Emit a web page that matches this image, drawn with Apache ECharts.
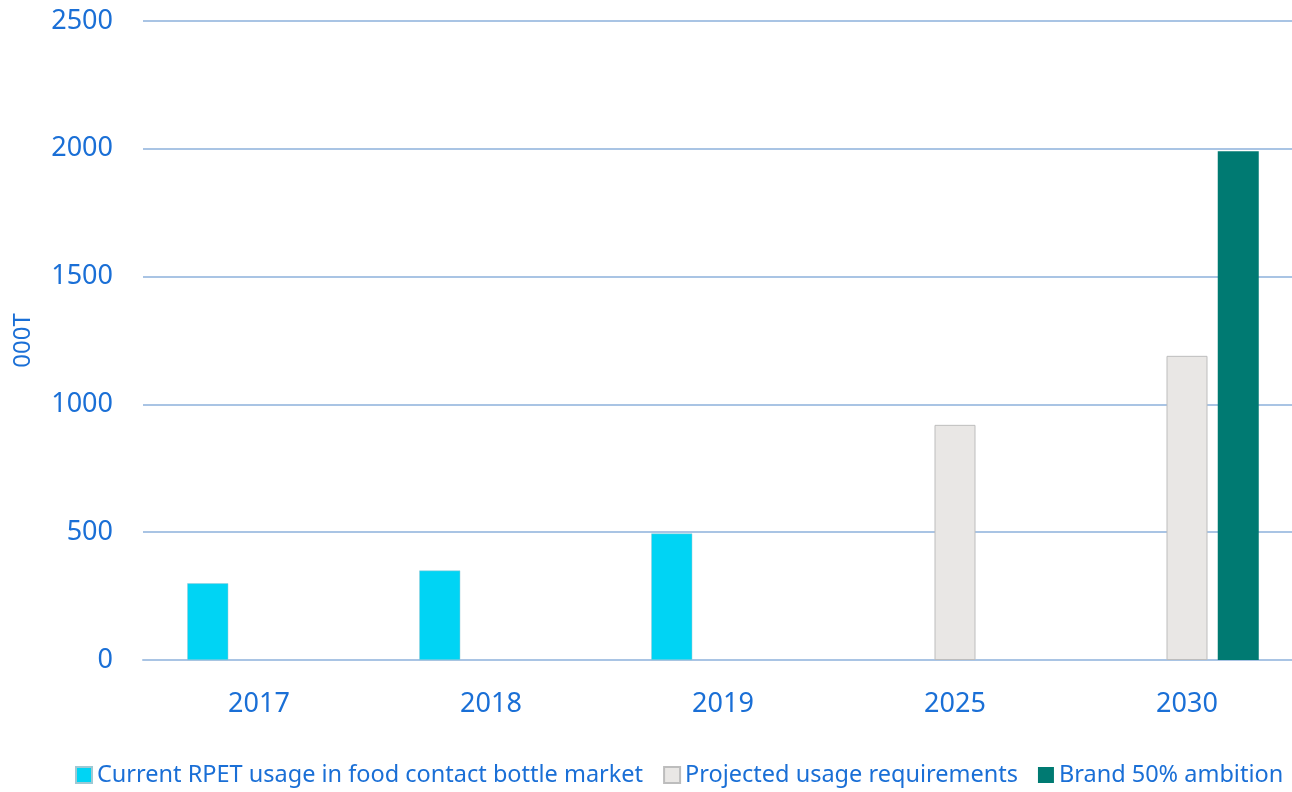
<!DOCTYPE html>
<html>
<head>
<meta charset="utf-8">
<script src="https://cdn.jsdelivr.net/npm/echarts@6/dist/echarts.min.js"></script>
<style>
  html, body { margin: 0; padding: 0; background: #fff; }
  #chart { width: 1292px; height: 792px; }
</style>
</head>
<body>
<div id="chart"></div>
<script>
var years = ['2017', '2018', '2019', '2025', '2030'];
var currentUsage = [300, 350, 495, null, null];
var projectedUsage = [null, null, null, 920, 1190];
var brandAmbition = [null, null, null, null, 1990];
var seriesNames = ['Current RPET usage in food contact bottle market', 'Projected usage requirements', 'Brand 50% ambition'];

var blue = '#1a6fd6';
var font = 'Noto Sans';

var myChart = echarts.init(document.getElementById('chart'));
var option = {
    animation: false,
    grid: {
        left: 143,
        width: 1160,
        top: 21,
        bottom: 132,
        outerBoundsMode: 'none'
    },
    legend: {
        bottom: 0,
        left: 70,
        icon: 'rect',
        itemWidth: 16,
        itemHeight: 16,
        itemGap: 20,
        textStyle: { color: blue, fontSize: 23.5, fontFamily: font },
        data: seriesNames
    },
    xAxis: {
        type: 'category',
        data: years,
        axisTick: { show: false },
        axisLine: { lineStyle: { color: '#a9c4e4', width: 2 } },
        axisLabel: { color: blue, fontSize: 27, fontFamily: font, margin: 31 }
    },
    yAxis: {
        type: 'value',
        min: 0,
        max: 2500,
        interval: 500,
        name: '000T',
        nameLocation: 'middle',
        nameGap: 108,
        nameTextStyle: { color: blue, fontSize: 24, fontFamily: font },
        axisLabel: {
            color: blue, fontSize: 27, fontFamily: font, margin: 30,
            formatter: function (v) { return String(v); }
        },
        splitLine: { lineStyle: { color: '#a9c4e4', width: 2 } }
    },
    series: [
        {
            name: seriesNames[0],
            type: 'bar',
            barWidth: 41,
            barGap: '25%',
            data: currentUsage,
            itemStyle: { color: '#00d4f4', borderColor: '#9ec9d4', borderWidth: 0.5 }
        },
        {
            name: seriesNames[1],
            type: 'bar',
            barWidth: 41,
            barGap: '25%',
            data: projectedUsage,
            itemStyle: { color: '#e9e7e5', borderColor: '#bdbdbd', borderWidth: 1 }
        },
        {
            name: seriesNames[2],
            type: 'bar',
            barWidth: 41,
            barGap: '25%',
            data: brandAmbition,
            itemStyle: { color: '#007a72' }
        }
    ]
};
myChart.setOption(option);
</script>
</body>
</html>
